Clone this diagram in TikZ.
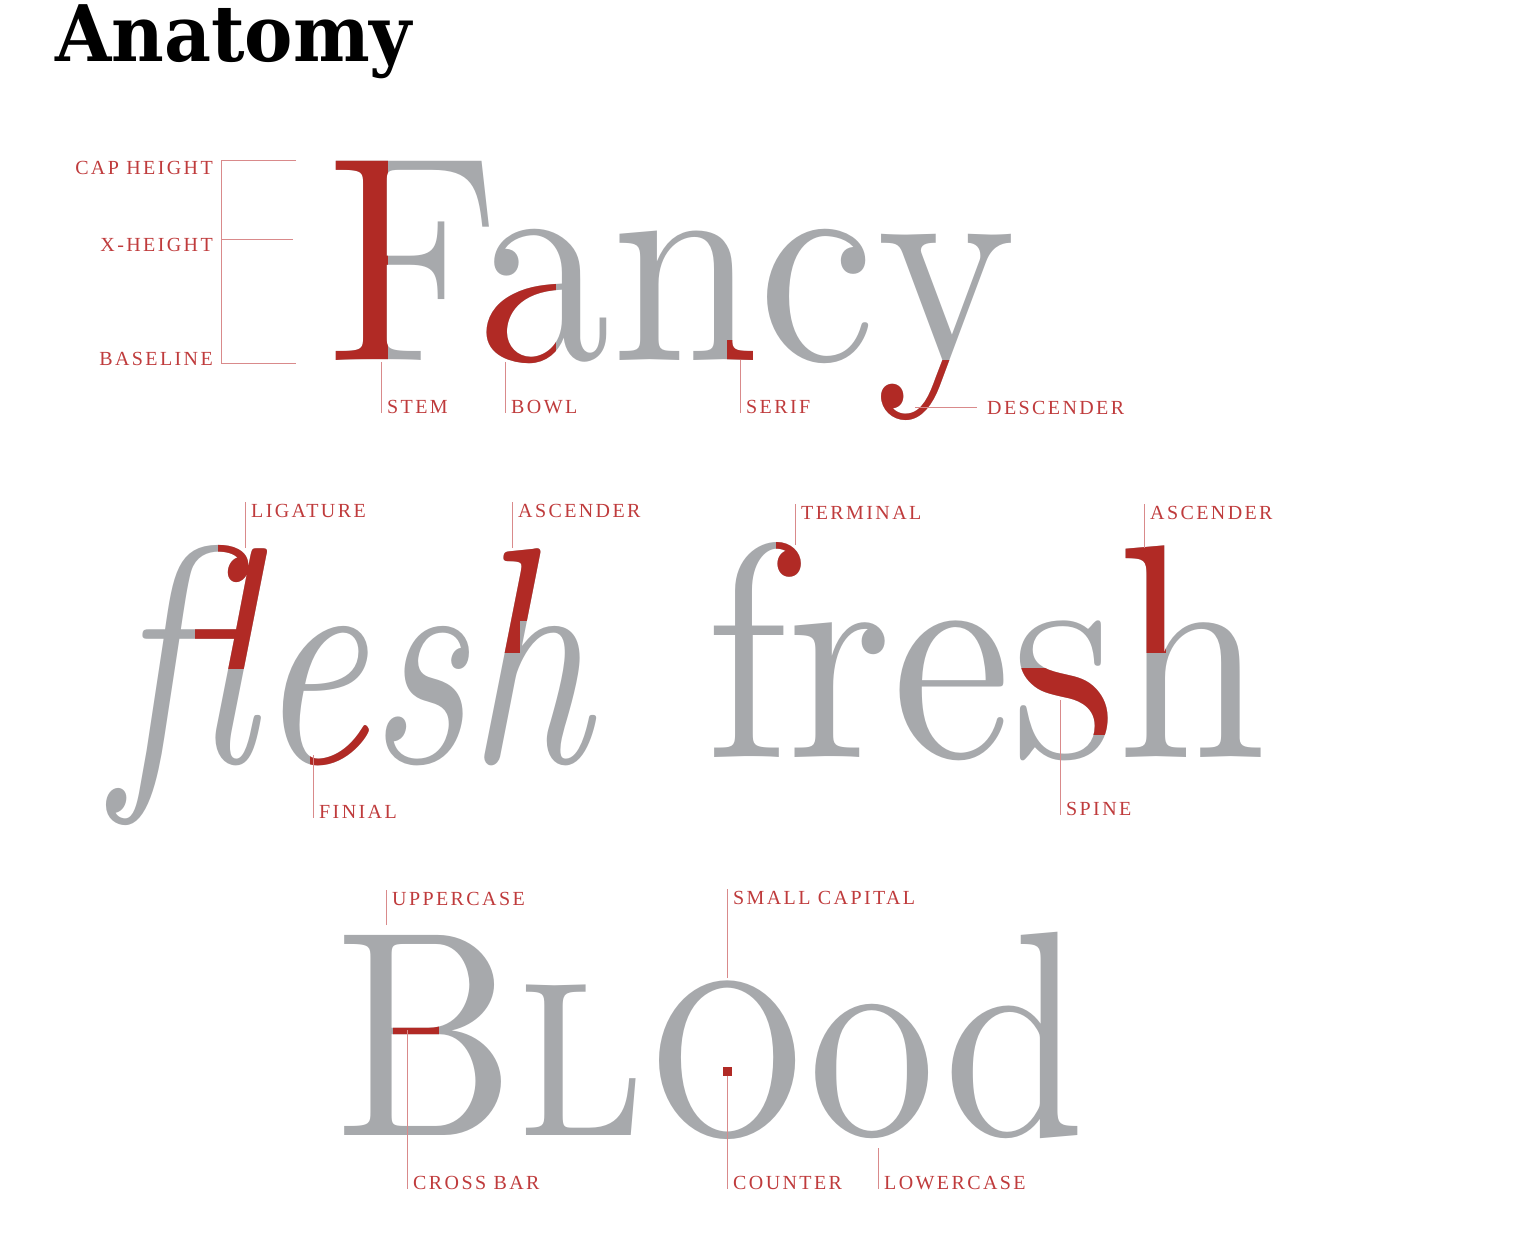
\documentclass[tikz,border=0pt]{standalone}
\usepackage{fontspec}
\usepackage{graphicx}
\usetikzlibrary{calc}
\newfontfamily\titlefont{DejaVu Serif}
\newfontfamily\specfont{lmroman10-regular.otf}[ItalicFont=lmroman10-italic.otf,
  SmallCapsFont=lmromancaps10-regular.otf]
\newfontfamily\labfamily{Liberation Serif}[LetterSpace=12]
\definecolor{glyph}{HTML}{A7A9AC}
\definecolor{hlred}{HTML}{B12A25}
\definecolor{labred}{HTML}{BF3B3C}
\definecolor{leadred}{HTML}{D98A8B}
\tikzset{
  word/.style={inner sep=0pt, anchor=base west, text=glyph},
  lab/.style={inner xsep=0pt, inner ysep=2pt, text=labred,
              font=\labfamily\fontsize{20}{20}\selectfont},
  leader/.style={draw=leadred, line width=0.9pt}
}
% the display words, squeezed to the width of the specimen
\newcommand{\fancyword}{\specfont\fontsize{293}{293}\selectfont\scalebox{0.906}[1]{Fancy}}
\newcommand{\fleshword}{\specfont\fontsize{308}{308}\selectfont\scalebox{0.79}[1]{\itshape flesh}}
\newcommand{\freshword}{\specfont\fontsize{305}{305}\selectfont\scalebox{0.88}[1]{fresh}}
\newcommand{\bloodword}{\specfont\fontsize{293}{293}\selectfont\scalebox{0.87}[1]{B\textsc{lo}od}}
\begin{document}
\begin{tikzpicture}[x=1pt,y=-1pt]
  \useasboundingbox (0,0) rectangle (1514,1246);
  \node[anchor=base west, inner sep=0pt, font=\titlefont\bfseries\fontsize{78}{78}\selectfont] (title) at (55,62) {\scalebox{0.93}[1]{Anatomy}};

  % row 1: Fancy
  \node[word] (fancy) at (327,360) {\fancyword};
  \begin{scope}
    \clip (320,150) rectangle (387,370) (478,282) rectangle (555,372)
          (727,340) rectangle (752,366) (860,360) rectangle (960,445);
    \node[word, text=hlred] (fancyhl) at (327,360) {\fancyword};
  \end{scope}

  % row 2: flesh and fresh
  \node[word] (flesh) at (112,762) {\fleshword};
  \begin{scope}
    \clip (218,540) rectangle (276,668) (195,620) rectangle (276,668)
          (310,712) rectangle (372,772) (482,540) rectangle (552,620)
          (482,620) rectangle (519,652);
    \node[word, text=hlred] (fleshhl) at (112,762) {\fleshword};
  \end{scope}
  \node[word] (fresh) at (705,757) {\freshword};
  \begin{scope}
    \clip (776,535) rectangle (830,580) (1105,535) rectangle (1165,652)
          (1008,668) -- (1080,668) -- (1108,690) -- (1108,734) -- (1040,734)
          -- (1040,700) -- (1008,700) -- cycle;
    \node[word, text=hlred] (freshhl) at (705,757) {\freshword};
  \end{scope}

  % row 3: Blood
  \node[word] (blood) at (335,1135) {\bloodword};
  \begin{scope}
    \clip (393,1012) rectangle (438,1042);
    \node[word, text=hlred] (bloodhl) at (335,1135) {\bloodword};
  \end{scope}
  \node[fill=hlred, minimum size=9pt, inner sep=0pt] (counterdot) at (727,1071) {};

  % height bracket
  \node[lab, anchor=base east] (caplab) at (213,175) {CAP HEIGHT};
  \node[lab, anchor=base east] (xlab) at (213,252) {X-HEIGHT};
  \node[lab, anchor=base east] (baselab) at (213,365) {BASELINE};
  \coordinate (captick) at (296,160);
  \coordinate (xtick) at (293,239);
  \coordinate (basetick) at (296,363);
  \coordinate (brtop) at (221,160);
  \coordinate (brbot) at (221,363);
  \draw[leader] (captick) -- (brtop) -- (brbot) -- (basetick);
  \draw[leader] (brtop |- xtick) -- (xtick);

  % labels under the glyphs
  \foreach \nm/\gx/\gy/\ly/\txt in {stem/381/362/413/STEM, bowl/505/362/413/BOWL,
      serif/740/360/413/SERIF, finial/313/755/818/FINIAL, spine/1060/700/815/SPINE,
      crossbar/407/1030/1189/CROSS BAR, lowercase/878/1148/1189/LOWERCASE} {
    \coordinate (\nm) at (\gx,\gy);
    \node[lab, anchor=base west] (\nm lab) at (\gx+6,\ly) {\txt};
    \draw[leader] (\nm) -- (\nm |- \nm lab.base);
  }
  \node[lab, anchor=base west] (counterlab) at (733,1189) {COUNTER};
  \draw[leader] (counterdot.south) -- (counterdot |- counterlab.base);

  % labels over the glyphs
  \foreach \nm/\gx/\gy/\ly/\txt in {ligature/245/548/517/LIGATURE, ascflesh/512/548/517/ASCENDER,
      terminal/795/545/519/TERMINAL, ascfresh/1144/548/519/ASCENDER,
      uppercase/386/925/905/UPPERCASE, smallcap/727/978/904/SMALL CAPITAL} {
    \coordinate (\nm) at (\gx,\gy);
    \node[lab, anchor=base west] (\nm lab) at (\gx+6,\ly) {\txt};
    \draw[leader] (\nm) -- (\nm |- \nm lab.north);
  }

  % descender, led off to the side
  \coordinate (desctip) at (915,407);
  \node[lab, anchor=base west] (desclab) at (987,414) {DESCENDER};
  \draw[leader, shorten >=10pt] (desctip) -- (desctip -| desclab.west);
\end{tikzpicture}
\end{document}
